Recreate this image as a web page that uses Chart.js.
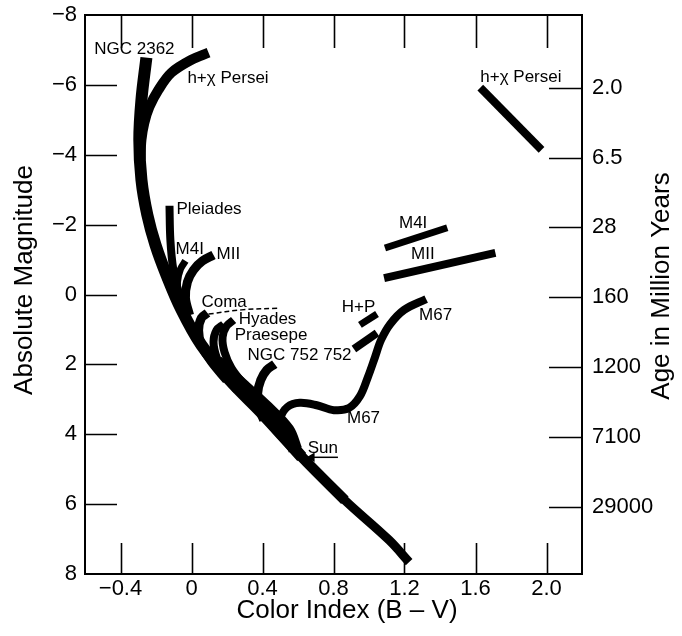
<!DOCTYPE html>
<html><head><meta charset="utf-8">
<script src="https://cdn.jsdelivr.net/npm/chart.js@4.4.1/dist/chart.umd.min.js"></script>
<style>html,body{margin:0;padding:0;background:#fff;}</style>
</head><body>
<canvas id="c" width="682" height="636"></canvas>
<script>
// ---- axis ticks ----
const xTicks = [-0.4, 0, 0.4, 0.8, 1.2, 1.6, 2.0];
const xTickLabels = ["\u22120.4", "0", "0.4", "0.8", "1.2", "1.6", "2.0"];
const yTicks = [-8, -6, -4, -2, 0, 2, 4, 6, 8];
const yTickLabels = ["\u22128", "\u22126", "\u22124", "\u22122", "0", "2", "4", "6", "8"];
const ageTicks = [-6, -4, -2, 0, 2, 4, 6];
const ageLabels = ["2.0", "6.5", "28", "160", "1200", "7100", "29000"];

// ---- cluster tracks (B-V colour, absolute magnitude) ----
const msUpperX = [-0.254, -0.282, -0.294, -0.282, -0.249, -0.203, -0.141, -0.056, 0.056, 0.215, 0.407, 0.621];
const msUpperY = [-6.78, -5.57, -4.43, -3.28, -2.28, -1.42, -0.56, 0.44, 1.45, 2.45, 3.45, 4.65];
const msMidX = [0.407, 0.621, 0.864];
const msMidY = [3.45, 4.65, 5.89];
const msLowerX = [0.621, 0.864, 1.113, 1.226];
const msLowerY = [4.65, 5.89, 7.03, 7.66];
const bandX = [0.141, 0.282, 0.424, 0.540, 0.585];
const bandY = [1.93, 2.59, 3.25, 3.88, 4.45];
const hxX = [0.096, 0, -0.113, -0.186, -0.237, -0.266, -0.282, -0.288];
const hxY = [-6.92, -6.72, -6.35, -5.86, -5.37, -4.91, -4.43, -3.85];
const pleiadesX = [-0.124, -0.119, -0.102, -0.068, -0.028];
const pleiadesY = [-2.54, -1.56, -0.70, 0.01, 0.50];
const m41X = [-0.034, -0.062, -0.079, -0.073, -0.040];
const m41Y = [-0.96, -0.73, -0.36, 0.10, 0.50];
const m11X = [0.124, 0.062, 0.011, -0.023, -0.034, -0.011];
const m11Y = [-1.13, -0.96, -0.70, -0.36, 0.10, 0.59];
const comaX = [0.090, 0.056, 0.040, 0.056, 0.113, 0.198];
const comaY = [0.53, 0.67, 1.02, 1.45, 1.93, 2.45];
const hyadesX = [0.237, 0.198, 0.175, 0.186, 0.226, 0.299, 0.384];
const hyadesY = [0.73, 0.90, 1.22, 1.65, 2.11, 2.59, 3.08];
const praesepeX = [0.181, 0.141, 0.124, 0.141, 0.181, 0.254];
const praesepeY = [0.85, 1.02, 1.36, 1.79, 2.22, 2.74];
const ngc752X = [0.469, 0.424, 0.390, 0.373, 0.379, 0.407];
const ngc752Y = [1.99, 2.16, 2.45, 2.82, 3.22, 3.60];
const m67X = [0.497, 0.500, 0.540, 0.610, 0.706, 0.802, 0.887, 0.949, 0.994, 1.034, 1.068, 1.119, 1.198, 1.322];
const m67Y = [3.95, 3.55, 3.22, 3.10, 3.17, 3.31, 3.25, 2.91, 2.36, 1.79, 1.30, 0.85, 0.44, 0.13];
const ngc752GiantX = [0.915, 1.045];
const ngc752GiantY = [1.56, 1.10];
const hpGiantX = [0.949, 1.045];
const hpGiantY = [0.87, 0.56];
const m41GiantX = [1.09, 1.441];
const m41GiantY = [-1.33, -1.91];
const m11GiantX = [1.085, 1.712];
const m11GiantY = [-0.47, -1.19];
const hxGiantX = [1.627, 1.972];
const hxGiantY = [-5.92, -4.14];
const comaDashX = [0.096, 0.282, 0.492];
const comaDashY = [0.56, 0.44, 0.39];
const sunX = [0.678, 0.825];
const sunY = [4.66, 4.66];

// ---- annotation labels ----
const labelTexts = ["NGC 2362", "h+\u03c7 Persei", "Pleiades", "M4I", "MII", "Coma", "Hyades", "Praesepe",
  "NGC 752 752", "H+P", "M67", "M67", "Sun", "h+\u03c7 Persei", "M4I", "MII"];
const labelX = [-0.548, -0.023, -0.085, -0.090, 0.141, 0.056, 0.266, 0.243, 0.316, 0.847, 1.282, 0.876, 0.655, 1.627, 1.169, 1.237];
const labelY = [-7.01, -6.20, -2.45, -1.30, -1.16, 0.21, 0.70, 1.16, 1.73, 0.36, 0.59, 3.54, 4.40, -6.23, -2.05, -1.16];

const FONT = "'Liberation Sans', Arial, Helvetica, sans-serif";

function pts(xs, ys) { return xs.map((x, i) => ({ x: x, y: ys[i] })); }
function track(xs, ys, w, extra) {
  return Object.assign({
    data: pts(xs, ys), showLine: true, borderColor: '#000', backgroundColor: '#000',
    borderWidth: w, pointRadius: 0, pointHoverRadius: 0, tension: 0.35,
    borderJoinStyle: 'round', borderCapStyle: 'butt', fill: false
  }, extra || {});
}

const datasets = [
  track(msUpperX, msUpperY, 12),
  track(msMidX, msMidY, 10.5),
  track(msLowerX, msLowerY, 9),
  track(bandX, bandY, 14),
  track(hxX, hxY, 10),
  track(pleiadesX, pleiadesY, 8),
  track(m41X, m41Y, 7),
  track(m11X, m11Y, 9),
  track(comaX, comaY, 9),
  track(hyadesX, hyadesY, 8),
  track(praesepeX, praesepeY, 8),
  track(ngc752X, ngc752Y, 9),
  track(m67X, m67Y, 8),
  track(ngc752GiantX, ngc752GiantY, 8, { tension: 0 }),
  track(hpGiantX, hpGiantY, 7, { tension: 0 }),
  track(m41GiantX, m41GiantY, 7, { tension: 0 }),
  track(m11GiantX, m11GiantY, 8, { tension: 0 }),
  track(hxGiantX, hxGiantY, 8, { tension: 0 }),
  track(comaDashX, comaDashY, 1.5, { borderDash: [5, 3] }),
  track(sunX, sunY, 1.5, { tension: 0, pointRadius: [4, 0], pointStyle: 'triangle', pointRotation: [-90, 0] })
];

const decor = {
  id: 'decor',
  afterDraw(chart) {
    const ctx = chart.ctx, a = chart.chartArea;
    const sx = chart.scales.x, sy = chart.scales.y, sy2 = chart.scales.y2;
    ctx.save();
    ctx.strokeStyle = '#000';
    ctx.lineWidth = 2;
    ctx.strokeRect(a.left, a.top, a.right - a.left, a.bottom - a.top);
    ctx.lineWidth = 1.6;
    ctx.beginPath();
    yTicks.slice(1, -1).forEach(v => {
      const p = Math.round(sy.getPixelForValue(v)) + 0.5;
      ctx.moveTo(a.left, p); ctx.lineTo(a.left + 32, p);
    });
    ageTicks.forEach(v => {
      const p = Math.round(sy2.getPixelForValue(v)) + 0.5;
      ctx.moveTo(a.right, p); ctx.lineTo(a.right - 33, p);
    });
    xTicks.forEach(v => {
      const p = Math.round(sx.getPixelForValue(v)) + 0.5;
      ctx.moveTo(p, a.top); ctx.lineTo(p, a.top + 33);
      ctx.moveTo(p, a.bottom); ctx.lineTo(p, a.bottom - 31);
    });
    ctx.stroke();
    // annotation labels
    ctx.fillStyle = '#000';
    ctx.font = '17px ' + FONT;
    ctx.textAlign = 'left';
    ctx.textBaseline = 'middle';
    labelTexts.forEach((t, i) => {
      ctx.fillText(t, sx.getPixelForValue(labelX[i]), sy.getPixelForValue(labelY[i]));
    });
    // axis titles
    ctx.font = '26px ' + FONT;
    ctx.textAlign = 'center';
    ctx.fillText('Color Index (B \u2013 V)', 347, 611);
    ctx.save();
    ctx.translate(25, 280);
    ctx.rotate(-Math.PI / 2);
    ctx.fillText('Absolute Magnitude', 0, 0);
    ctx.restore();
    ctx.translate(662, 286);
    ctx.rotate(-Math.PI / 2);
    ctx.fillText('Age in Million Years', 0, 0);
    ctx.restore();
  }
};

const noPad = s => { s.paddingTop = 0; s.paddingBottom = 0; s.paddingLeft = 0; s.paddingRight = 0; };

new Chart(document.getElementById('c'), {
  type: 'scatter',
  data: { datasets: datasets },
  options: {
    responsive: false,
    animation: false,
    devicePixelRatio: 1,
    layout: { padding: { top: 15, left: 0, right: 0, bottom: 0 } },
    plugins: { legend: { display: false }, tooltip: { enabled: false } },
    scales: {
      x: {
        type: 'linear', position: 'bottom', min: -0.6, max: 2.2,
        afterBuildTicks: s => { s.ticks = xTicks.map(v => ({ value: v })); },
        afterFit: s => { s.height = 62; noPad(s); },
        grid: { display: false, drawTicks: false }, border: { display: false },
        ticks: { callback: (v, i) => xTickLabels[i], font: { size: 22, family: FONT }, color: '#000', padding: 2, maxRotation: 0, autoSkip: false }
      },
      y: {
        type: 'linear', position: 'left', reverse: true, min: -8, max: 8,
        afterBuildTicks: s => { s.ticks = yTicks.map(v => ({ value: v })); },
        afterFit: s => { s.width = 85; noPad(s); },
        grid: { display: false, drawTicks: false }, border: { display: false },
        ticks: { callback: (v, i) => yTickLabels[i], font: { size: 22, family: FONT }, color: '#000', padding: 8, autoSkip: false }
      },
      y2: {
        type: 'linear', position: 'right', reverse: true, min: -8.08, max: 7.92,
        afterBuildTicks: s => { s.ticks = ageTicks.map(v => ({ value: v })); },
        afterFit: s => { s.width = 100; noPad(s); },
        grid: { display: false, drawTicks: false }, border: { display: false },
        ticks: { callback: (v, i) => ageLabels[i], font: { size: 22, family: FONT }, color: '#000', padding: 10, autoSkip: false }
      }
    }
  },
  plugins: [decor]
});
</script>
</body></html>
